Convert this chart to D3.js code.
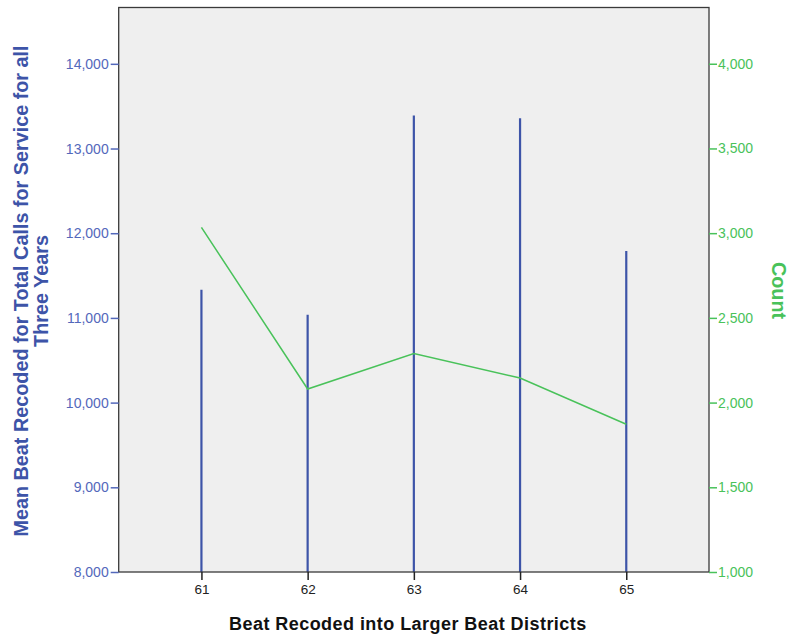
<!DOCTYPE html>
<html><head><meta charset="utf-8">
<script src="https://cdn.jsdelivr.net/npm/d3@7"></script>
<style>body{margin:0;background:#fff;} text{font-family:"Liberation Sans",Arial,sans-serif;}</style>
</head><body><svg id="c" width="789" height="637"></svg>
<script>
const categories = ["61","62","63","64","65"];
const meanValues = [11333, 11038, 13390, 13358, 11789];
const countValues = [3034, 2080, 2289, 2145, 1872];
const leftTicks = [8000, 9000, 10000, 11000, 12000, 13000, 14000];
const rightTicks = [1000, 1500, 2000, 2500, 3000, 3500, 4000];

const svg = d3.select("#c");
const L = 118.7, R = 709, T = 7.5, B = 572;
const blue = "#3d54a8", blueText = "#5368bb", green = "#49c25a";

const x = d3.scalePoint().domain(categories).range([L, R]).padding(0.779);
const yL = d3.scaleLinear().domain([8000, 14665]).range([B, T]);
const yR = d3.scaleLinear().domain([1000, 4332]).range([B, T]);

svg.append("rect").attr("x", L).attr("y", T).attr("width", R - L).attr("height", B - T)
  .attr("fill", "#efefef");

svg.selectAll(".bar").data(categories).enter().append("line")
  .attr("x1", d => x(d)).attr("x2", d => x(d))
  .attr("y1", B).attr("y2", (d, i) => yL(meanValues[i]))
  .attr("stroke", blue).attr("stroke-width", 2.2);

svg.append("path").datum(countValues)
  .attr("d", d3.line().x((d, i) => x(categories[i])).y(d => yR(d)))
  .attr("fill", "none").attr("stroke", green).attr("stroke-width", 1.5);

svg.append("rect").attr("x", L).attr("y", T).attr("width", R - L).attr("height", B - T)
  .attr("fill", "none").attr("stroke", "#3a3a3a").attr("stroke-width", 1.3);

const fmt = d3.format(",");
const ax = svg.append("g").attr("transform", `translate(${L},0)`)
  .call(d3.axisLeft(yL).tickValues(leftTicks).tickFormat(fmt).tickSize(8).tickPadding(2));
ax.select(".domain").remove();
ax.selectAll("line").attr("stroke", blueText).attr("stroke-width", 1.5);
ax.selectAll("text").attr("fill", blueText).style("font-size", "14px");

const ar = svg.append("g").attr("transform", `translate(${R},0)`)
  .call(d3.axisRight(yR).tickValues(rightTicks).tickFormat(fmt).tickSize(8).tickPadding(1));
ar.select(".domain").remove();
ar.selectAll("line").attr("stroke", green).attr("stroke-width", 1.5);
ar.selectAll("text").attr("fill", green).style("font-size", "14px");

const axb = svg.append("g").attr("transform", `translate(0,${B})`)
  .call(d3.axisBottom(x).tickSize(8).tickPadding(4));
axb.select(".domain").remove();
axb.selectAll("line").attr("stroke", "#222").attr("stroke-width", 1.5);
axb.selectAll("text").attr("fill", "#222").style("font-size", "13.5px");

svg.append("text").attr("x", (L + R) / 2 - 6).attr("y", 630).attr("text-anchor", "middle")
  .style("font-size", "18px").style("letter-spacing", "0.45px").style("font-weight", "bold").attr("fill", "#111")
  .text("Beat Recoded into Larger Beat Districts");

const yl = svg.append("text").attr("transform", `translate(28,291) rotate(-90)`)
  .attr("text-anchor", "middle").style("font-size", "19.8px").style("font-weight", "bold").attr("fill", blue);
yl.append("tspan").attr("x", 0).attr("dy", 0).text("Mean Beat Recoded for Total Calls for Service for all");
yl.append("tspan").attr("x", 0).attr("dy", 19.5).text("Three Years");

svg.append("text").attr("transform", `translate(771.5,290.5) rotate(90)`)
  .attr("text-anchor", "middle").style("font-size", "19.8px").style("font-weight", "bold").attr("fill", green)
  .text("Count");
</script></body></html>
